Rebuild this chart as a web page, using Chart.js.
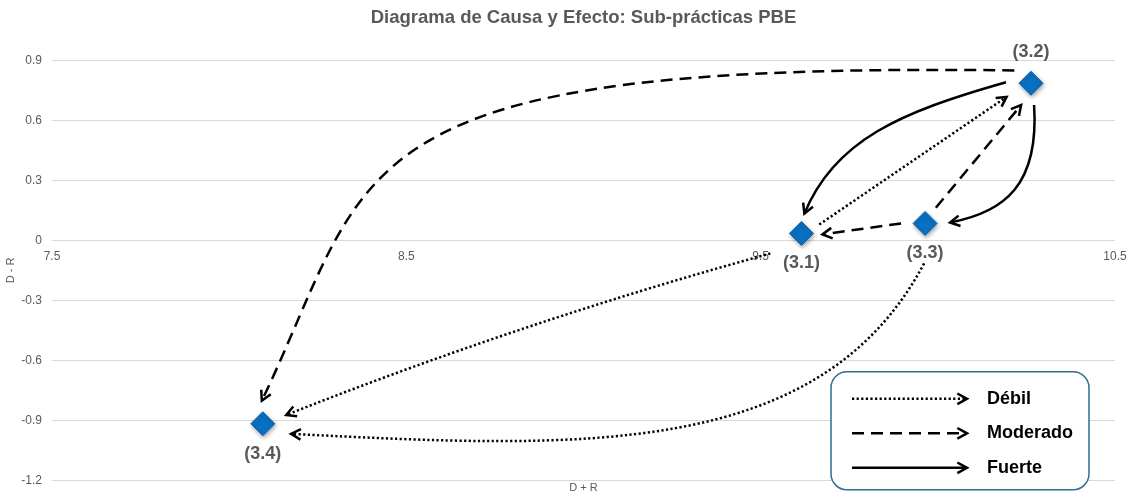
<!DOCTYPE html>
<html>
<head>
<meta charset="utf-8">
<script src="https://cdn.jsdelivr.net/npm/chart.js@4/dist/chart.umd.min.js"></script>
<style>
  html, body { margin: 0; padding: 0; background: #fff; }
</style>
</head>
<body>
<canvas id="causeEffectChart" width="1129" height="498"></canvas>
<script>
// Sub-practices: position on the cause/effect plane
const practiceLabels = ['(3.1)', '(3.2)', '(3.3)', '(3.4)'];
const dPlusR = [9.615, 10.263, 9.964, 8.095];
const dMinusR = [0.035, 0.785, 0.085, -0.915];

// Influence relations (index into practiceLabels)
const relationFrom = [1, 1, 0, 2, 1, 2, 0, 2];
const relationTo = [3, 0, 1, 1, 2, 0, 3, 3];
const relationStrength = ['Moderado', 'Fuerte', 'Débil', 'Moderado', 'Fuerte', 'Moderado', 'Débil', 'Débil'];

// Axis ticks
const xTicks = [7.5, 8.5, 9.5, 10.5];
const yTicks = [-1.2, -0.9, -0.6, -0.3, 0, 0.3, 0.6, 0.9];
const strengthLevels = ['Débil', 'Moderado', 'Fuerte'];

const GREY = '#595959';
const strengthDash = { 'Débil': [2.2, 2.4], 'Moderado': [12, 7], 'Fuerte': [] };
const labelAbove = [false, true, false, false];

// arrow geometry: anchor angle/gap on each marker, bezier handles relative to the chord
const arrowShapes = [
    { a0: -142.6, g0: 21, a1: -92.5, g1: 23, c: [0.7583, -0.3456, 0.7594, -0.2066] },
    { a0: -177.7, g0: 25, a1: -81.5, g1: 20, c: [0.4351, -0.1352, 0.7277, -0.1878] },
    { a0: -26.6, g0: 20, a1: 150.8, g1: 28 },
    { a0: -55.5, g0: 19, a1: 114.4, g1: 24 },
    { a0: 82, g0: 22, a1: -2, g1: 25, c: [0.4310, 0.3521, 0.7249, 0.2641] },
    { a0: 180, g0: 24, a1: 2.7, g1: 21 },
    { a0: 147.2, g0: 37, a1: -20.6, g1: 25, c: [0.33, -0.018, 0.67, -0.018] },
    { a0: 91.4, g0: 40, a1: 19.7, g1: 30, c: [0.2322, 0.2485, 0.5807, 0.1361] }
];

Chart.defaults.font.family = "'Liberation Sans', Arial, sans-serif";

const deg = Math.PI / 180;
const anchor = (p, a, g) => ({ x: p.x + g * Math.cos(a * deg), y: p.y + g * Math.sin(a * deg) });
const handle = (s, e, k, t) => {
    const dx = e.x - s.x, dy = e.y - s.y;
    return { x: s.x + k * dx + t * dy, y: s.y + k * dy - t * dx };
};

function drawArrow(ctx, s, e, c1, c2, dash) {
    ctx.save();
    ctx.strokeStyle = '#000';
    ctx.lineWidth = 2.5;
    ctx.setLineDash(dash);
    ctx.beginPath();
    ctx.moveTo(s.x, s.y);
    if (c1) ctx.bezierCurveTo(c1.x, c1.y, c2.x, c2.y, e.x, e.y);
    else ctx.lineTo(e.x, e.y);
    ctx.stroke();
    // open arrow head
    const from = c2 || s;
    const ang = Math.atan2(e.y - from.y, e.x - from.x);
    ctx.setLineDash([]);
    ctx.beginPath();
    ctx.moveTo(e.x - 11 * Math.cos(ang - 0.5), e.y - 11 * Math.sin(ang - 0.5));
    ctx.lineTo(e.x, e.y);
    ctx.lineTo(e.x - 11 * Math.cos(ang + 0.5), e.y - 11 * Math.sin(ang + 0.5));
    ctx.stroke();
    ctx.restore();
}

const relationsPlugin = {
    id: 'relations',
    beforeDatasetsDraw(chart) {
        const ctx = chart.ctx;
        ctx.save();
        ctx.shadowColor = 'rgba(0,0,0,0.35)';
        ctx.shadowBlur = 4;
        ctx.shadowOffsetX = 1;
        ctx.shadowOffsetY = 2;
    },
    afterDatasetsDraw(chart) {
        const ctx = chart.ctx;
        ctx.restore();
        const xs = chart.scales.x, ys = chart.scales.y;
        const pos = i => ({ x: xs.getPixelForValue(dPlusR[i]), y: ys.getPixelForValue(dMinusR[i]) });

        relationFrom.forEach((f, i) => {
            const sh = arrowShapes[i];
            const s = anchor(pos(f), sh.a0, sh.g0);
            const e = anchor(pos(relationTo[i]), sh.a1, sh.g1);
            let c1 = null, c2 = null;
            if (sh.c) {
                c1 = handle(s, e, sh.c[0], sh.c[1]);
                c2 = handle(s, e, sh.c[2], sh.c[3]);
            }
            drawArrow(ctx, s, e, c1, c2, strengthDash[relationStrength[i]]);
        });

        // point labels
        ctx.save();
        ctx.font = "bold 18px 'Liberation Sans', Arial, sans-serif";
        ctx.fillStyle = GREY;
        ctx.textAlign = 'center';
        ctx.textBaseline = 'middle';
        practiceLabels.forEach((lbl, i) => {
            const p = pos(i);
            ctx.fillText(lbl, p.x, labelAbove[i] ? p.y - 31 : p.y + 30);
        });
        ctx.restore();
    },
    afterDraw(chart) {
        const ctx = chart.ctx;
        const area = chart.chartArea;
        const left = area.right - 284, top = area.bottom - 109;
        ctx.save();
        ctx.beginPath();
        ctx.roundRect(left, top, 258, 118, 16);
        ctx.fillStyle = '#fff';
        ctx.fill();
        ctx.lineWidth = 1.5;
        ctx.strokeStyle = '#2F6E8F';
        ctx.stroke();
        ctx.font = "bold 18px 'Liberation Sans', Arial, sans-serif";
        ctx.textBaseline = 'middle';
        ctx.textAlign = 'left';
        strengthLevels.forEach((s, i) => {
            const yy = top + 27 + i * 34.5;
            drawArrow(ctx, { x: left + 21, y: yy }, { x: left + 136, y: yy }, null, null, strengthDash[s]);
            ctx.fillStyle = '#000';
            ctx.fillText(s, left + 156, yy);
        });
        ctx.restore();
    }
};

new Chart(document.getElementById('causeEffectChart'), {
    type: 'scatter',
    data: {
        datasets: [{
            label: 'Sub-prácticas',
            data: dPlusR.map((v, i) => ({ x: v, y: dMinusR[i] })),
            pointStyle: 'rectRot',
            pointRadius: 12,
            pointHoverRadius: 12,
            backgroundColor: '#0A70C2',
            borderColor: '#0860A8',
            borderWidth: 1
        }]
    },
    options: {
        responsive: false,
        animation: false,
        layout: { padding: { right: 14, bottom: 0 } },
        plugins: {
            legend: { display: false },
            tooltip: { enabled: false },
            title: {
                display: true,
                fullSize: false,
                text: 'Diagrama de Causa y Efecto: Sub-prácticas PBE',
                color: GREY,
                font: { size: 18.5, weight: 'bold' },
                padding: { top: 7, bottom: 31 }
            }
        },
        scales: {
            x: {
                type: 'linear',
                position: { y: 0 },
                min: 7.5,
                max: 10.5,
                afterBuildTicks: s => { s.ticks = xTicks.map(v => ({ value: v })); },
                ticks: { color: GREY, font: { size: 12 }, padding: 0, maxRotation: 0, autoSkip: false, callback: v => String(v) },
                grid: { display: false, drawTicks: true, tickLength: 9 },
                border: { display: false }
            },
            x2: {
                type: 'linear',
                position: 'bottom',
                min: 7.5,
                max: 10.5,
                ticks: { display: false },
                grid: { display: false, drawTicks: false },
                border: { display: false },
                title: { display: true, text: 'D + R', color: GREY, font: { size: 11 }, padding: { top: 1, bottom: 3 } }
            },
            y: {
                min: -1.2,
                max: 0.9,
                afterBuildTicks: s => { s.ticks = yTicks.map(v => ({ value: v })); },
                afterFit: s => { s.width = 52; },
                ticks: { color: GREY, font: { size: 12 }, padding: 10, callback: v => String(v) },
                grid: { color: '#D9D9D9', drawTicks: false },
                border: { display: false },
                title: { display: true, text: 'D - R', color: GREY, font: { size: 11 }, padding: { top: 4, bottom: 4 } }
            }
        }
    },
    plugins: [relationsPlugin]
});
</script>
</body>
</html>
